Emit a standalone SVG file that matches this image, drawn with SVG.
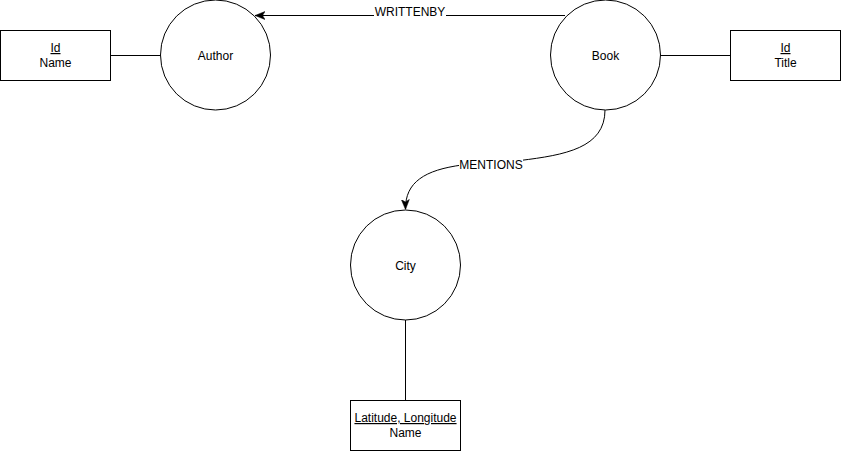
<svg xmlns="http://www.w3.org/2000/svg" width="841" height="451" viewBox="0 0 841 451">
<style>
.shape{fill:#fff;stroke:#000;stroke-width:1}
.edge{fill:none;stroke:#000;stroke-width:1}
text{font-family:"Liberation Sans",Arial,sans-serif;font-size:12px;fill:#000;text-anchor:middle}
.u{text-decoration:underline}
</style>
<defs>
<marker id="arr" viewBox="0 0 10 10" refX="10" refY="5" markerWidth="10" markerHeight="10" markerUnits="userSpaceOnUse" orient="auto">
<path d="M0,1 L10,5 L0,9 L2.5,5 Z" fill="#000" stroke="#000" stroke-width="0.5"/>
</marker>
</defs>
<rect width="841" height="451" fill="#fff"/>
<g id="connectors">
<line class="edge" x1="110.5" y1="55.5" x2="160.5" y2="55.5"/>
<line class="edge" x1="660.5" y1="55.5" x2="730.5" y2="55.5"/>
<line class="edge" x1="405.5" y1="320" x2="405.5" y2="400"/>
<g id="e-writtenby">
<line class="edge" x1="565" y1="15.5" x2="446" y2="15.5"/>
<line class="edge" x1="374" y1="15.5" x2="255" y2="15.5" marker-end="url(#arr)"/>
<text x="410" y="16">WRITTENBY</text>
</g>
<g id="e-mentions">
<path class="edge" d="M605,110 C605,148 565,155 520,160.5 L462,165 C425,170 405,182 405.5,209.5" marker-end="url(#arr)"/>
<rect x="459" y="157" width="64" height="14" fill="#fff"/>
<text x="491" y="168.5">MENTIONS</text>
</g>
</g>
<g id="author-attrs">
<rect class="shape" x="0.5" y="30.5" width="110" height="50"/>
<text class="u" x="55.5" y="52">Id</text>
<text x="55.5" y="67">Name</text>
</g>
<g id="author">
<circle class="shape" cx="215.5" cy="55" r="55"/>
<text x="215.5" y="60">Author</text>
</g>
<g id="book">
<circle class="shape" cx="605.5" cy="55" r="55"/>
<text x="605.5" y="60">Book</text>
</g>
<g id="book-attrs">
<rect class="shape" x="730.5" y="30.5" width="110" height="50"/>
<text class="u" x="785.5" y="52">Id</text>
<text x="785.5" y="67">Title</text>
</g>
<g id="city">
<circle class="shape" cx="405.5" cy="265" r="55"/>
<text x="405.5" y="270">City</text>
</g>
<g id="city-attrs">
<rect class="shape" x="350.5" y="400.5" width="110" height="50"/>
<text class="u" x="405.5" y="422">Latitude, Longitude</text>
<text x="405.5" y="437">Name</text>
</g>
</svg>
